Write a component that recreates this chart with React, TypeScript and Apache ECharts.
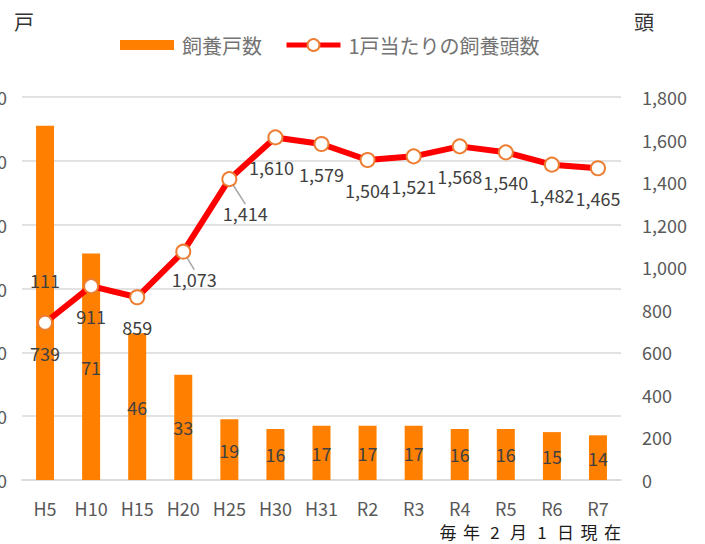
import React, { useEffect, useRef } from "react";
import * as echarts from "echarts";

const categories = ["H5", "H10", "H15", "H20", "H25", "H30", "H31", "R2", "R3", "R4", "R5", "R6", "R7"];
const households = [111, 71, 46, 33, 19, 16, 17, 17, 17, 16, 16, 15, 14];
const headsPerHousehold = [739, 911, 859, 1073, 1414, 1610, 1579, 1504, 1521, 1568, 1540, 1482, 1465];
const leftAxisRange = { min: 0, max: 120, interval: 20 };
const rightAxisRange = { min: 0, max: 1800, interval: 200 };
const seriesNames = ["飼養戸数", "1戸当たりの飼養頭数"];
const leftUnit = "戸";
const rightUnit = "頭";
const footnote = "毎年2月1日現在";

const FONT = "'Noto Sans CJK JP', 'Noto Sans', sans-serif";

export default function App() {
  const ref = useRef<HTMLDivElement>(null);
  useEffect(() => {
    if (!ref.current) return;
    const chart = echarts.init(ref.current, null, { renderer: "svg" });
    const fmt = (v: number) => Number(v).toLocaleString("en-US");
    const barData = households.map((v, i) =>
      i === 0 ? { value: v, label: { offset: [0, -23] } } : v
    );
    const lineData = headsPerHousehold.map((v, i) =>
      i === 3 || i === 4 ? { value: v, labelLine: { show: true } } : v
    );
    const footChars = footnote.split("").map((ch, i) => ({
      type: "text",
      x: 448 + i * 23.5,
      y: 531,
      style: {
        text: ch,
        font: `17px ${FONT}`,
        fill: "#1a1a1a",
        align: "center",
        verticalAlign: "middle",
      },
    }));
    chart.setOption({
      animation: false,
      textStyle: { fontFamily: FONT },
      legend: {
        left: 120,
        top: 35,
        padding: 0,
        itemWidth: 54,
        itemHeight: 15,
        itemGap: 22,
        lineStyle: { width: 5 },
        textStyle: { fontSize: 20, color: "#737373", fontFamily: FONT, padding: [0, 0, 0, 3] },
        data: [
          { name: seriesNames[0], icon: "path://M0,0M0,2.5h54v10h-54zM0,15" },
          { name: seriesNames[1] },
        ],
      },
      grid: { left: 22, right: 84, top: 97, bottom: 64, outerBoundsMode: "none", containLabel: false },
      xAxis: {
        type: "category",
        data: categories,
        axisTick: { show: false },
        axisLine: { lineStyle: { color: "#d9d9d9", width: 1.5 } },
        axisLabel: { color: "#595959", fontSize: 18, margin: 19, fontFamily: FONT },
      },
      yAxis: [
        {
          type: "value",
          ...leftAxisRange,
          axisLine: { show: false },
          axisTick: { show: false },
          axisLabel: { color: "#595959", fontSize: 18, margin: 15, fontFamily: FONT },
          splitLine: { lineStyle: { color: "#d9d9d9", width: 1.5 } },
        },
        {
          type: "value",
          ...rightAxisRange,
          axisLine: { show: false },
          axisTick: { show: false },
          axisLabel: {
            color: "#595959",
            fontSize: 18,
            margin: 21,
            fontFamily: FONT,
            formatter: (v: number) => fmt(v),
          },
          splitLine: { show: false },
        },
      ],
      series: [
        {
          name: seriesNames[0],
          type: "bar",
          data: barData,
          barWidth: 18,
          itemStyle: { color: "#FF8000" },
          label: {
            show: true,
            position: "inside",
            color: "#404040",
            fontSize: 18,
            fontFamily: FONT,
          },
        },
        {
          name: seriesNames[1],
          type: "line",
          yAxisIndex: 1,
          data: lineData,
          symbol: "circle",
          symbolSize: 14,
          lineStyle: { color: "#FF0000", width: 6 },
          itemStyle: { color: "#FFFFFF", borderColor: "#ED7D31", borderWidth: 2 },
          label: {
            show: true,
            position: "bottom",
            distance: 13,
            color: "#404040",
            fontSize: 18,
            fontFamily: FONT,
            formatter: (p: any) => fmt(p.value),
          },
          labelLine: { show: false, lineStyle: { color: "#a6a6a6", width: 1.5 } },
          labelLayout: (p: any) => {
            if (p.dataIndex === 3) return { dx: 11, dy: -3 };
            if (p.dataIndex === 4) return { dx: 16, dy: 4 };
            if (p.dataIndex === 5) return { dx: -4 };
            return {};
          },
          z: 3,
        },
      ],
      graphic: [
        {
          type: "text",
          x: 14,
          y: 21,
          style: { text: leftUnit, font: `20px ${FONT}`, fill: "#333333", verticalAlign: "middle" },
        },
        {
          type: "text",
          x: 634,
          y: 21,
          style: { text: rightUnit, font: `20px ${FONT}`, fill: "#333333", verticalAlign: "middle" },
        },
        ...footChars,
      ],
    });
    return () => chart.dispose();
  }, []);
  return (
    <div
      ref={ref}
      style={{ position: "fixed", left: 0, top: 0, width: 705, height: 544, background: "#fff" }}
    />
  );
}
